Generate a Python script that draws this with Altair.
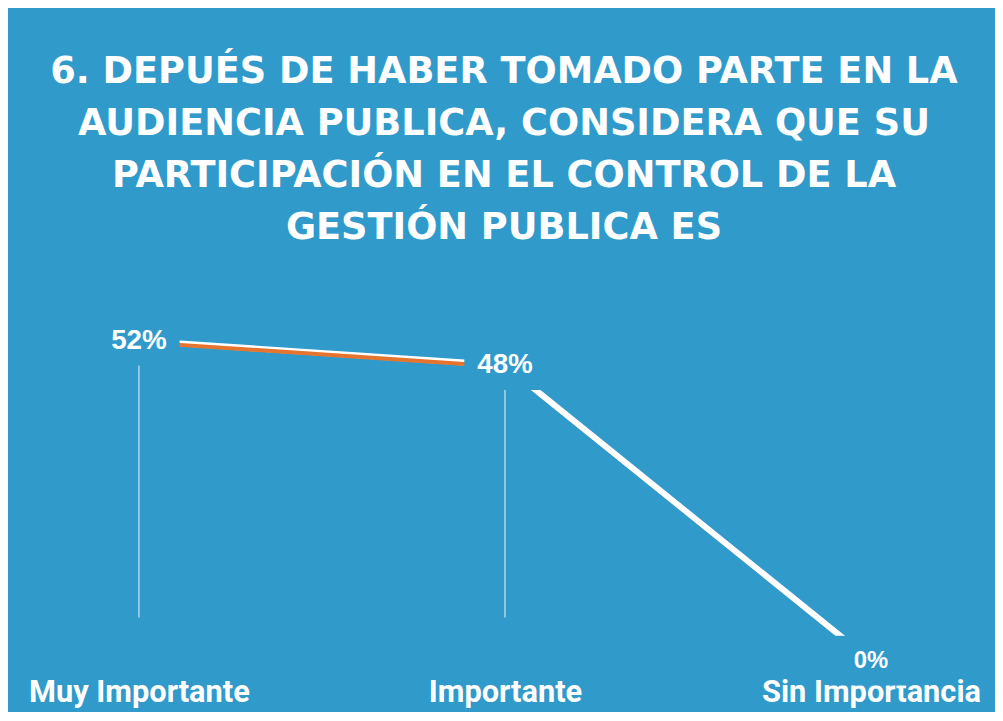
import altair as alt
import pandas as pd

categories = ["Muy Importante", "Importante", "Sin Importancia"]
values = [52, 48, 0]
value_labels = ["52%", "48%", "0%"]
order = [0, 1, 2]
title_lines = [
    "6. DEPUÉS DE HABER TOMADO PARTE EN LA",
    "AUDIENCIA PUBLICA, CONSIDERA QUE SU",
    "PARTICIPACIÓN EN EL CONTROL DE LA",
    "GESTIÓN PUBLICA ES",
]

BG = "#309acb"
ORANGE = "#e5742f"

df = pd.DataFrame({"cat": categories, "value": values, "label": value_labels, "order": order})

x = alt.X(
    "cat:N",
    sort=categories,
    scale=alt.Scale(type="point", range=[132, 870], padding=0),
    axis=alt.Axis(
        title=None, labelAngle=0, domain=False, ticks=False, grid=False,
        labelColor="white", labelFont="Roboto", labelLimit=0,
        labelFontWeight="bold", labelFontSize=31, labelPadding=12,
    ),
)
y = alt.Y("value:Q", scale=alt.Scale(domain=[-0.8, 105.6], nice=False, zero=False), axis=None)

base = alt.Chart(df).encode(x=x, y=y)

drop = base.transform_filter("datum.value > 7").mark_rule(
    color="white", strokeWidth=1.2, opacity=0.75
).encode(y2=alt.datum(7))

shadow = base.transform_filter("datum.order >= 1").mark_line(
    color="#e8a57a", strokeWidth=2, yOffset=2.5, opacity=0.6
)
line_white = base.mark_line(color="white", strokeWidth=6)
line_orange = base.transform_filter("datum.order <= 1").mark_line(
    color=ORANGE, strokeWidth=4, yOffset=1.5
)

mask = base.mark_point(
    shape="M-1,-0.61L1,-0.61L1,0.61L-1,0.61Z", size=6724,
    filled=True, fill=BG, opacity=1, strokeWidth=0,
)

labels = base.mark_text(
    color="white", font="Liberation Sans", fontWeight="bold", baseline="middle", align="center"
).encode(
    text="label:N",
    size=alt.condition("datum.value == 0", alt.value(24), alt.value(28)),
)

title = alt.Chart(pd.DataFrame({"t": [0]})).mark_text(
    text=title_lines, font="DejaVu Sans", fontWeight="bold", fontSize=37,
    color="white", align="center", baseline="alphabetic", lineHeight=52.5,
).encode(x=alt.value(500), y=alt.value(73))

chart = alt.layer(title, drop, shadow, line_white, line_orange, mask, labels).properties(
    width=995, height=660, background=BG,
    padding={"left": 0, "top": 0, "right": 0, "bottom": 44},
    autosize=alt.AutoSizeParams(type="none"),
).configure_view(stroke=None)

chart.save("out.html", embed_options={"renderer": "svg", "actions": False})
